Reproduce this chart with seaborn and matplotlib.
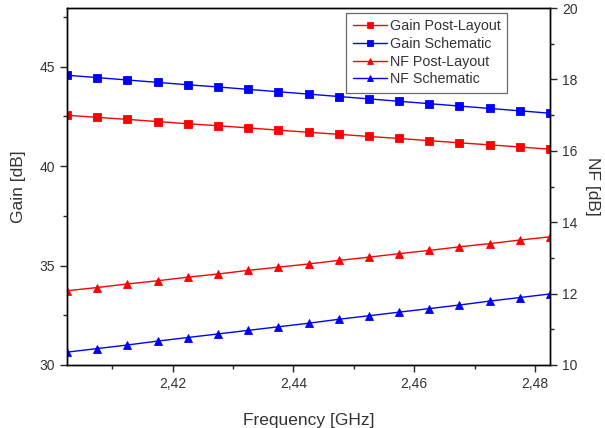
import numpy as np
import pandas as pd
import matplotlib
matplotlib.use("Agg")
import matplotlib.pyplot as plt
from matplotlib.ticker import FuncFormatter, MultipleLocator
import seaborn as sns

# ── DATA ────────────────────────────────────────────────────
freq = [2.4025, 2.4075, 2.4125, 2.4175, 2.4225, 2.4275, 2.4325, 2.4375, 2.4425,
        2.4475, 2.4525, 2.4575, 2.4625, 2.4675, 2.4725, 2.4775, 2.4825]
gain_post = [42.56, 42.45, 42.35, 42.24, 42.13, 42.03, 41.92, 41.81, 41.70,
             41.60, 41.49, 41.39, 41.28, 41.17, 41.07, 40.96, 40.85]
gain_schem = [44.57, 44.45, 44.33, 44.21, 44.09, 43.98, 43.86, 43.74, 43.62,
              43.50, 43.38, 43.26, 43.14, 43.02, 42.90, 42.78, 42.66]
nf_post = [12.08, 12.17, 12.27, 12.36, 12.46, 12.55, 12.65, 12.74, 12.83,
           12.93, 13.02, 13.12, 13.21, 13.31, 13.40, 13.50, 13.59]
nf_schem = [10.36, 10.46, 10.56, 10.67, 10.77, 10.87, 10.97, 11.07, 11.17,
            11.28, 11.38, 11.48, 11.58, 11.68, 11.79, 11.89, 11.99]

sns.set_style("ticks")
plt.rcParams["font.family"] = ["Liberation Sans", "DejaVu Sans"]

TXT = "#333333"

fig = plt.figure(figsize=(6.05, 4.28), dpi=100)
ax = fig.add_axes([67 / 605, 1 - 365 / 428, 483 / 605, 357 / 428])
ax2 = ax.twinx()

sty = dict(linewidth=1.0, markersize=5.5, markeredgewidth=0.6)
sns.lineplot(x=freq, y=gain_post, ax=ax, color="#ff0000", marker="s",
             markeredgecolor="#ff0000", label="Gain Post-Layout", **sty)
sns.lineplot(x=freq, y=gain_schem, ax=ax, color="#0000ff", marker="s",
             markeredgecolor="#0000ff", label="Gain Schematic", **sty)
sns.lineplot(x=freq, y=nf_post, ax=ax2, color="#ff0000", marker="^",
             markeredgecolor="#ff0000", label="NF Post-Layout", **sty)
sns.lineplot(x=freq, y=nf_schem, ax=ax2, color="#0000ff", marker="^",
             markeredgecolor="#0000ff", label="NF Schematic", **sty)

ax.set_xlim(2.4025, 2.4825)
ax.set_ylim(30, 47.95)
ax2.set_ylim(10, 20)

ax.xaxis.set_major_locator(MultipleLocator(0.02))
ax.xaxis.set_minor_locator(MultipleLocator(0.01))
ax.xaxis.set_major_formatter(FuncFormatter(lambda v, p: f"{v:.2f}".replace(".", ",")))
ax.yaxis.set_major_locator(MultipleLocator(5))
ax.yaxis.set_minor_locator(MultipleLocator(2.5))
ax2.yaxis.set_major_locator(MultipleLocator(2))
ax2.yaxis.set_minor_locator(MultipleLocator(1))

for a in (ax, ax2):
    a.tick_params(which="major", length=5, width=1, labelsize=10, labelcolor=TXT, direction="out")
    a.tick_params(which="minor", length=3, width=1, direction="out")
    for s in a.spines.values():
        s.set_linewidth(1.0)
        s.set_color("black")
        s.set_visible(True)

ax.set_xlabel("Frequency [GHz]", fontsize=12.5, color=TXT, labelpad=16)
ax.set_ylabel("Gain [dB]", fontsize=12.5, color=TXT, labelpad=10)
ax2.set_ylabel("NF [dB]", fontsize=12.5, color=TXT, rotation=270, labelpad=16)

h1, l1 = ax.get_legend_handles_labels()
h2, l2 = ax2.get_legend_handles_labels()
ax.get_legend().remove()
ax2.get_legend().remove()
leg = ax2.legend(h1 + h2, l1 + l2, loc="upper right", bbox_to_anchor=(0.911, 0.986),
                 borderaxespad=0, fontsize=10.3, frameon=True, fancybox=False,
                 borderpad=0.45, labelspacing=0.25, handlelength=2.4,
                 handletextpad=0.2, markerscale=0.7)
leg.get_frame().set_edgecolor("#444444")
leg.get_frame().set_linewidth(0.9)
for t in leg.get_texts():
    t.set_color(TXT)

fig.savefig("out.png", dpi=100)
